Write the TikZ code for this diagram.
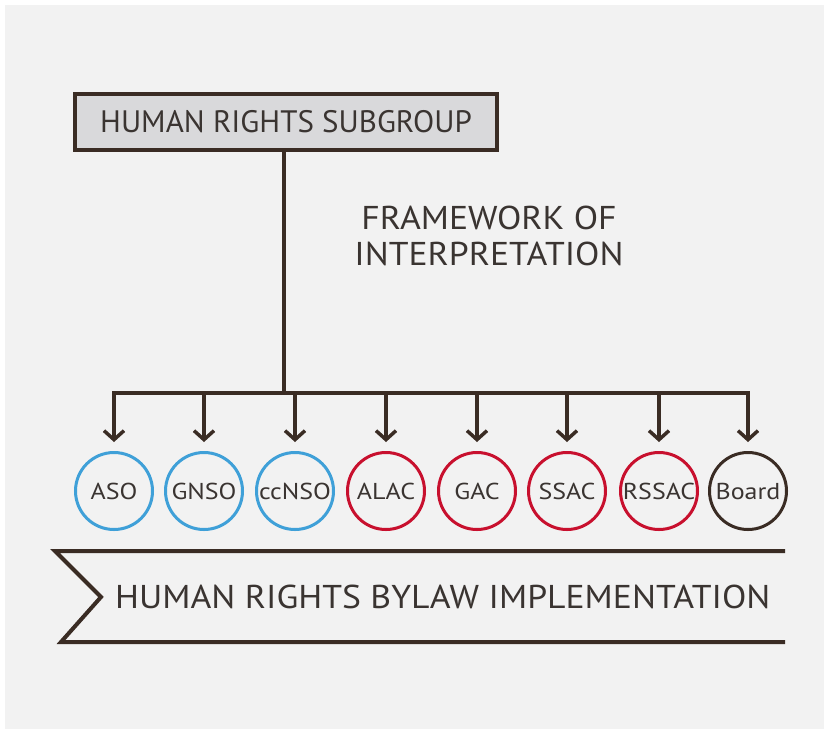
\documentclass[tikz,border=0pt]{standalone}
\usepackage{graphicx}
\usepackage{fontspec}
\setmainfont{PT Sans}
\usetikzlibrary{arrows.meta}
\definecolor{bgc}{HTML}{F2F2F2}
\definecolor{ink}{HTML}{3A2C24}
\definecolor{txt}{HTML}{3A3431}
\definecolor{boxfill}{HTML}{D9D9DB}
\definecolor{soblue}{HTML}{3FA0D8}
\definecolor{acred}{HTML}{C8102E}
\newcommand\hstretch[2]{\scalebox{#1}[1]{#2}}
\newcommand\orgtext[1]{\hstretch{1.13}{#1}}
\newcommand\bigtext[1]{\hstretch{1.08}{#1}}
\tikzset{
  conn/.style={draw=ink, line width=4pt},
  arr/.style={conn, -{Straight Barb[length=9pt,width=20pt,line width=3.5pt]}},
  org/.style={circle, minimum size=77pt, inner sep=0pt, line width=3pt, text=txt,
    font=\fontsize{23}{25}\selectfont},
  so/.style={org, draw=soblue},
  ac/.style={org, draw=acred},
  bd/.style={org, draw=ink},
}
\begin{document}
\begin{tikzpicture}[x=1pt,y=-1pt]
\useasboundingbox (0,0) rectangle (824,729);
\fill[white] (0,0) rectangle (824,729);
\fill[bgc] (5,5) rectangle (824,729);

\node[draw=ink, line width=4pt, fill=boxfill, minimum width=422pt, minimum height=56pt,
  inner sep=0pt, text=txt, font=\fontsize{31}{34}\selectfont] (hr) at (286,122) {HUMAN RIGHTS SUBGROUP};

\node[text=txt, align=center, font=\fontsize{33}{36}\selectfont] (fw) at (489,236)
  {\bigtext{FRAMEWORK OF}\\\bigtext{INTERPRETATION}};

\node[so] (aso) at (114,491) {\orgtext{ASO}};
\node[so] (gnso) at (204,491) {\orgtext{GNSO}};
\node[so] (ccnso) at (295,491) {\orgtext{ccNSO}};
\node[ac] (alac) at (386,491) {\orgtext{ALAC}};
\node[ac] (gac) at (477,491) {\orgtext{GAC}};
\node[ac] (ssac) at (567,491) {\orgtext{SSAC}};
\node[ac] (rssac) at (659,491) {\orgtext{RSSAC}};
\node[bd] (board) at (748,491) {\orgtext{Board}};

\coordinate (bus) at (284,393);
\draw[conn] (hr.south -| bus) -- (bus);
\draw[conn, line cap=rect] (bus -| aso) -- (bus -| board);
\foreach \n in {aso,gnso,ccnso,alac,gac,ssac,rssac,board}{
  \draw[arr] (bus -| \n) -- ([yshift=9pt]\n.north);
}

\coordinate (b1) at (785,551);
\coordinate (b2) at (55,551);
\coordinate (b3) at (101,597);
\coordinate (b4) at (61,642);
\coordinate (b5) at (785,642);
\draw[conn, line join=miter] (b1) -- (b2) -- (b3) -- (b4) -- (b5);
\node[text=txt, font=\fontsize{33}{36}\selectfont, anchor=west, inner sep=0pt] (bl) at (115,597)
  {\bigtext{HUMAN RIGHTS BYLAW IMPLEMENTATION}};
\end{tikzpicture}
\end{document}
